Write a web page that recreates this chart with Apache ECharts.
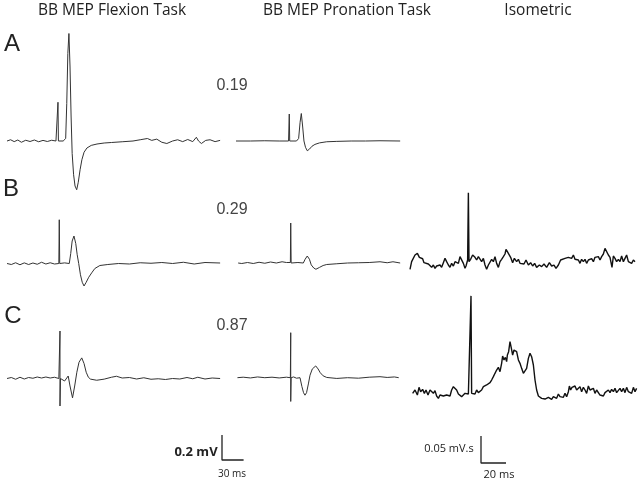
<!DOCTYPE html>
<html>
<head>
<meta charset="utf-8">
<script src="https://cdn.jsdelivr.net/npm/echarts@6/dist/echarts.min.js"></script>
<style>
  html, body { margin: 0; padding: 0; background: #fff; }
  #chart { width: 640px; height: 482px; }
</style>
</head>
<body>
<div id="chart"></div>
<script>
// column titles, row letters and correlation values
const columnTitles = ["BB MEP Flexion Task", "BB MEP Pronation Task", "Isometric"];
const rowLabels = ["A", "B", "C"];
const rowValues = ["0.19", "0.29", "0.87"];

// traces: [time ms, amplitude mV]
const flexionA = [[0,0],[5,0.01],[10,-0.005],[15,0.008],[20,-0.01],[26,0.006],[32,-0.004],[38,0.008],[44,-0.006],[50,0.005],[56,-0.004],[62,0.006],[68,0],[70.4,0],[70.8,0.31],[71.4,0],[78,0],[81.5,0.02],[83,0.3],[84.5,0.7],[86,0.86],[87.5,0.6],[89,0.2],[90.5,-0.1],[92.5,-0.27],[94.5,-0.36],[96.8,-0.39],[99,-0.33],[101.5,-0.23],[104,-0.15],[107,-0.09],[111,-0.056],[117,-0.035],[125,-0.024],[135,-0.016],[145,-0.012],[160,-0.006],[175,0],[185,0.01],[195,0.02],[201,0.005],[208,0.015],[215,-0.01],[222,-0.02],[230,0],[237,0.01],[244,-0.005],[251,0.012],[258,-0.005],[263,0.03],[266,0],[270,-0.02],[276,0.005],[282,0.01],[289,-0.005],[296,0.005]];
const flexionB = [[0,0],[6,-0.008],[12,0.006],[18,-0.01],[24,0.005],[30,-0.008],[36,0.004],[42,-0.006],[48,0.01],[54,-0.004],[60,0.006],[66,-0.004],[72,0],[72.6,0.35],[73.2,0],[80,0.005],[86.5,0],[88.5,0.08],[90.5,0.18],[93,0.22],[95.5,0.16],[97.5,0.07],[99.6,0],[102,-0.09],[104.5,-0.15],[107,-0.18],[110,-0.15],[113.5,-0.11],[117.6,-0.075],[122,-0.04],[129,-0.016],[140,-0.008],[155,0],[170,-0.004],[185,0.006],[200,0.002],[215,0.008],[230,0],[245,0.01],[260,-0.004],[275,0.008],[296,0.004]];
const flexionC = [[0,0],[6,0.008],[12,-0.006],[18,0.01],[24,-0.004],[30,0.008],[36,0.002],[42,0.012],[48,0.004],[54,0.012],[60,0.004],[66,0.01],[72,0],[73.6,0.38],[73.6,-0.22],[74.3,0],[77,0.01],[80,-0.02],[85,0.02],[87.5,-0.06],[91,-0.155],[94,-0.06],[97,0.05],[100,0.13],[103.8,0.165],[107,0.12],[110,0.05],[113,0.01],[116,-0.005],[124.6,-0.014],[135,-0.005],[145,0.01],[152,0.018],[160,0.004],[170,0.008],[180,-0.004],[190,0.006],[200,-0.006],[210,-0.002],[220,-0.008],[230,0],[240,-0.004],[250,0.008],[258,-0.002],[265,0.01],[275,-0.004],[285,0.004],[296,0]];

const pronationA = [[0,0],[20,0],[40,0.002],[60,0],[73,0],[74,0.216],[74.6,0],[84,0],[87,0.02],[89,0.15],[90.7,0.22],[92.5,0.12],[94.4,0],[96.5,-0.05],[99,-0.078],[102,-0.065],[105.5,-0.042],[109.7,-0.027],[116,-0.015],[126,-0.006],[140,-0.003],[160,0],[180,0],[200,0.002],[228,0]];
const pronationB = [[3,0],[8,-0.004],[16,0.004],[24,-0.004],[32,0.006],[40,-0.002],[48,0.008],[56,0],[64,0.01],[70,0.004],[75.5,0.004],[76,0.32],[76.6,0],[86,0.004],[93.5,0],[96,0.03],[99,0.056],[102,0.03],[104.5,-0.015],[108,-0.04],[111,-0.05],[116,-0.035],[121,-0.02],[126,-0.012],[140,-0.006],[155,0],[170,0.002],[185,0.004],[200,0.01],[210,0.002],[218,0.01],[228,0]];
const pronationC = [[2,0],[10,0.004],[20,-0.002],[30,0.006],[40,0],[50,0.004],[60,-0.002],[70,0.004],[75.5,0],[76,0.36],[76,-0.19],[76.6,0],[80,0.006],[84,-0.004],[88.9,0],[91.5,-0.07],[93.8,-0.12],[95.8,-0.14],[98,-0.12],[100.5,-0.05],[102.8,0.02],[106,0.07],[110.7,0.094],[114,0.07],[117,0.04],[121,0.015],[126,0.002],[140,-0.006],[155,0],[170,-0.004],[185,0.004],[200,0.008],[210,0.002],[220,0.006],[226,0]];

// isometric traces: [time ms, mV.s]
const isometricB = [[0,-0.0136],[1.3,0.0006],[4,0.013],[5.9,0.016],[7.5,0.0086],[8.8,0.005],[10.1,0.006],[11.2,-0.0012],[12.8,0.0025],[14.7,-0.0037],[16,-0.0074],[17.3,-0.0099],[18.7,-0.0056],[20,-0.0117],[21.3,-0.0074],[22.7,-0.0099],[24,-0.0056],[25.3,-0.0099],[26.7,-0.0012],[28,0.0068],[29.3,0.0006],[30.7,-0.0056],[32,-0.0099],[33.3,-0.0025],[34.7,-0.0074],[36,0.0006],[37.3,0.0037],[38.7,-0.0025],[40,0.0099],[41.3,0.0111],[42.7,-0.0025],[44,-0.0117],[44.8,-0.0074],[46.1,0.0037],[46.7,0.128],[47.2,0.0006],[48.5,0.005],[50.1,0.013],[52,0.0086],[53.3,0.0037],[54.7,0.0099],[56,0.0111],[57.3,0.0006],[58.7,0.0068],[60,-0.0056],[61.3,-0.0136],[62.7,-0.0056],[64,-0.0025],[65.3,0.005],[66.7,0.0006],[68,0.0099],[69.3,-0.0025],[70.7,-0.0099],[72,0.0006],[73.3,0.005],[74.7,0.0099],[76,0.0148],[76.8,0.0235],[77.9,0.0191],[79.5,0.0173],[80.5,0.0086],[82.1,-0.0012],[83.5,0.0068],[85.3,0.0006],[86.7,0.005],[88,-0.0025],[89.6,0.0006],[91.2,-0.0037],[92.8,0.0037],[94.7,-0.0056],[96.5,-0.0012],[98.1,-0.0074],[99.7,-0.0025],[101.3,-0.0099],[103.5,-0.0056],[105.3,-0.0086],[107.2,-0.0037],[109.3,-0.0099],[111.5,-0.0012],[113.3,-0.0074],[115.2,-0.0056],[116.8,-0.0117],[118.7,-0.0056],[120.5,0.0037],[122.1,0.0006],[124,0.0068],[125.3,0.0037],[126.7,0.0086],[128,0.0111],[129.3,0.0068],[130.7,0.013],[132,0.005],[133.3,0.0086],[134.7,0.0037],[136,-0.0025],[137.3,0.005],[138.7,0.0006],[140,0.005],[141.3,-0.0025],[142.7,0.0037],[144,0.0006],[145.3,0.0062],[146.7,0.0006],[148,0.0086],[149.3,0.005],[150.7,0.0099],[152,0.0037],[153.3,0.0099],[154.7,0.0148],[156,0.0253],[157.3,0.0222],[158.7,0.013],[160,0.0086],[161.6,-0.0099],[162.7,0.0111],[164,0.0068],[165.3,0.0006],[166.7,0.005],[168,0.0006],[169.3,0.0111],[170.7,0.0006],[172,0.0068],[173.3,0.013],[174.7,0.0006],[176,0.0037],[177.3,-0.0025],[178.7,0.0037],[180,0.0006]];
const isometricC = [[2.1,-0.0025],[4,0.0037],[5.9,-0.0056],[7.2,0.0086],[8.5,0.0006],[10.1,0.0049],[11.5,-0.0025],[12.8,0.0037],[14.4,-0.0056],[16,0.0037],[17.3,0.0068],[18.7,-0.0025],[20,0.0025],[21.3,-0.0074],[22.7,-0.0117],[24,-0.0056],[25.3,-0.0086],[26.7,-0.0074],[28,-0.0086],[29.3,-0.0056],[30.7,-0.0086],[32,-0.0074],[33.3,0.0037],[34.7,0.0099],[36,0.013],[37.3,0.0037],[38.7,-0.0037],[40,-0.0074],[41.3,-0.0086],[42.7,-0.0056],[44,-0.0025],[45.3,-0.0056],[46.7,-0.0037],[48,-0.0012],[48.8,0.178],[49.3,-0.0025],[50.7,0.0006],[52,-0.0037],[53.3,0.0037],[54.7,-0.0012],[56,0.0006],[57.3,0.0037],[58.7,0.0099],[60,0.0068],[61.3,0.013],[62.7,0.0148],[64,0.0173],[65.3,0.0222],[66.7,0.0284],[68,0.0346],[69.3,0.0407],[70.7,0.0457],[72,0.0377],[73.3,0.0531],[74.1,0.0667],[75.2,0.0593],[76.3,0.0642],[77.3,0.0562],[77.9,0.0685],[78.9,0.0747],[80,0.0932],[81.1,0.0809],[82.1,0.0685],[83.2,0.0778],[84.3,0.0809],[85.3,0.0747],[86.7,0.0593],[88,0.0531],[89.3,0.0438],[90.7,0.0346],[92,0.0327],[93.3,0.0438],[94.7,0.0623],[96,0.0716],[97.3,0.0654],[98.7,0.05],[100,0.0222],[101.3,0.0037],[102.7,-0.0074],[104,-0.0099],[105.3,-0.0117],[106.7,-0.0117],[108,-0.013],[109.3,-0.0136],[110.7,-0.0099],[112,-0.0117],[113.3,-0.0136],[114.7,-0.0086],[116,-0.0074],[117.3,-0.0117],[118.7,-0.0037],[120,-0.0086],[121.3,-0.0056],[122.7,-0.0099],[124,-0.0025],[125.3,-0.0086],[126.7,0.0006],[127.5,0.0111],[128.5,0.0037],[129.6,0.0086],[130.7,0.0049],[132,0.0111],[133.3,0.0037],[134.7,0.0068],[136,0.0099],[137.3,0.0006],[138.7,0.0086],[140,0.0037],[141.3,-0.0025],[142.7,0.0111],[144,0.0037],[145.3,0.0006],[146.7,0.0068],[148,-0.0025],[149.3,0.0037],[150.7,0.0006],[152,-0.0056],[153.3,-0.0025],[154.7,-0.0074],[156,-0.0012],[157.3,-0.0037],[158.7,0.0037],[160,-0.0012],[161.3,0.0049],[162.7,0.0006],[164,0.0068],[165.3,-0.0012],[166.7,0.0025],[168,0.0068],[169.3,0.0006],[170.7,0.0068],[172,-0.0012],[173.3,0.0086],[174.7,0.0006],[176,0.0037],[177.3,-0.0025],[178.7,0.0086],[180,0.0006],[181.3,0.0068]];

// scale bars: [mV, ms] and [mV.s, ms]
const mepScale = [0.2, 30];
const isoScale = [0.05, 20];

const chart = echarts.init(document.getElementById("chart"));

// pixels per unit
const MEP_MS = 0.72, MEP_MV = 125;
const ISO_MS = 1.25, ISO_MVS = 540;

// panel layout: left px, baseline px, x range (ms), kind
const panels = [
    { data: flexionA, left: 7, base: 141, xMax: 296, kind: "mep" },
    { data: flexionB, left: 7, base: 263.5, xMax: 296, kind: "mep" },
    { data: flexionC, left: 7, base: 378.5, xMax: 296, kind: "mep" },
    { data: pronationA, left: 236, base: 141, xMax: 228, kind: "mep" },
    { data: pronationB, left: 236, base: 263, xMax: 228, kind: "mep" },
    { data: pronationC, left: 236, base: 377.7, xMax: 228, kind: "mep" },
    { data: isometricB, left: 410, base: 262, xMax: 182, kind: "iso" },
    { data: isometricC, left: 410, base: 392, xMax: 182, kind: "iso" },
];

const grids = [], xAxes = [], yAxes = [], series = [];
panels.forEach((p, i) => {
    const iso = p.kind === "iso";
    const pxMs = iso ? ISO_MS : MEP_MS;
    const pxV = iso ? ISO_MVS : MEP_MV;
    const yMin = iso ? -0.05 : -0.6, yMax = iso ? 0.2 : 1.0;
    grids.push({ left: p.left, top: p.base - yMax * pxV, width: p.xMax * pxMs, height: (yMax - yMin) * pxV });
    xAxes.push({ type: "value", gridIndex: i, min: 0, max: p.xMax, show: false });
    yAxes.push({ type: "value", gridIndex: i, min: yMin, max: yMax, show: false });
    series.push({
        type: "line", xAxisIndex: i, yAxisIndex: i, data: p.data,
        showSymbol: false, silent: true, clip: false,
        lineStyle: { color: iso ? "#111" : "#333", width: iso ? 1.4 : 1 },
    });
});

// scale bars
const bars = [
    { v: mepScale[0], t: mepScale[1], left: 222, bottom: 460, pxMs: MEP_MS, pxV: MEP_MV },
    { v: isoScale[0], t: isoScale[1], left: 481, bottom: 463, pxMs: ISO_MS, pxV: ISO_MVS },
];
bars.forEach((b) => {
    const i = grids.length;
    grids.push({ left: b.left, top: b.bottom - b.v * b.pxV, width: b.t * b.pxMs, height: b.v * b.pxV });
    xAxes.push({ type: "value", gridIndex: i, min: 0, max: b.t, show: false });
    yAxes.push({ type: "value", gridIndex: i, min: 0, max: b.v, show: false });
    series.push({
        type: "line", xAxisIndex: i, yAxisIndex: i,
        data: [[0, b.v], [0, 0], [b.t, 0]],
        showSymbol: false, silent: true, clip: false,
        lineStyle: { color: "#222", width: 1.3 },
    });
});

function txt(text, x, y, size, extra) {
    return {
        type: "text", x: x, y: y, silent: true,
        style: Object.assign({
            text: text, fill: "#222", textAlign: "center", textVerticalAlign: "middle",
            font: size + "px 'Liberation Sans', Arial, sans-serif",
        }, extra || {}),
    };
}

const titleFont = "15.5px 'Open Sans', sans-serif";
const graphics = [
    txt(columnTitles[0], 112, 11, 15, { font: titleFont }),
    txt(columnTitles[1], 347, 11, 15, { font: titleFont }),
    txt(columnTitles[2], 538, 11, 15, { font: titleFont }),
    txt(rowLabels[0], 12, 44, 24),
    txt(rowLabels[1], 11, 189, 24),
    txt(rowLabels[2], 13, 316, 24),
    txt(rowValues[0], 232, 86, 16, { fill: "#444" }),
    txt(rowValues[1], 232, 210, 16, { fill: "#444" }),
    txt(rowValues[2], 232, 326, 16, { fill: "#444" }),
    txt(mepScale[0] + " mV", 196, 452, 13, { font: "bold 13px 'Open Sans', sans-serif" }),
    txt(mepScale[1] + " ms", 232, 474, 10, { font: "10px 'Open Sans', sans-serif" }),
    txt(isoScale[0] + " mV.s", 449, 449, 11, { font: "11px 'Open Sans', sans-serif" }),
    txt(isoScale[1] + " ms", 499, 475, 11, { font: "11px 'Open Sans', sans-serif" }),
];

chart.setOption({
    backgroundColor: "#fff",
    animation: false,
    grid: grids,
    xAxis: xAxes,
    yAxis: yAxes,
    series: series,
    graphic: graphics,
});
</script>
</body>
</html>
